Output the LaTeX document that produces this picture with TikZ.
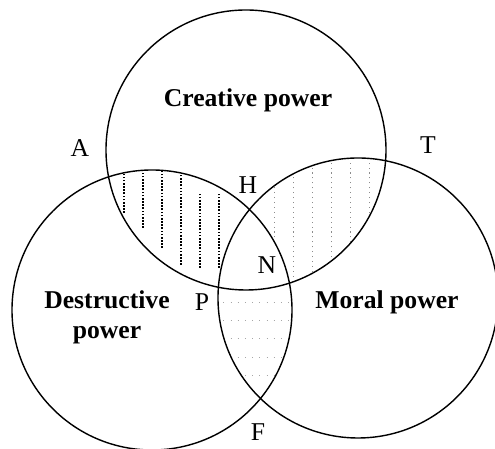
\documentclass[tikz,border=0pt]{standalone}
\usepackage{fontspec}
\setmainfont{Liberation Serif}
\usepackage{tikz}
\usetikzlibrary{positioning}

\begin{document}
\begin{tikzpicture}[
    x=0.02cm, y=0.02cm,
    ring/.style={draw=black, line width=0.8pt},
    hatchdark/.style={black, line width=0.6pt, dash pattern=on 0.9pt off 0.9pt},
    hatchlight/.style={black!45, line width=0.4pt, dash pattern=on 0.6pt off 2.2pt},
    hatchfaint/.style={black!35, line width=0.4pt, dash pattern=on 0.6pt off 3.5pt},
    title/.style={font=\fontsize{14.6}{17}\selectfont\bfseries, align=center},
    pt/.style={font=\fontsize{14.6}{17}\selectfont}
]
\useasboundingbox (0,0) rectangle (495,449);
\clip (0,0) rectangle (495,449);

% Circle centres
\coordinate (cTop) at (246,299);
\coordinate (cLeft) at (152,139);
\coordinate (cRight) at (358,151);
\def\R{140}

% Creative and destructive only: close dotted verticals
\begin{scope}
  \clip (cTop) circle[radius=\R];
  \clip (cLeft) circle[radius=\R];
  \clip (-10,-10) -- (-10,460) -- (510,460) -- (510,-10) -- cycle (cRight) circle[radius=\R];
  \foreach \x/\ya/\yb in {124/236/275, 143/221/280, 162/201/280, 181/184/280, 200/181/256, 219/181/256} {
    \draw[hatchdark] (\x,\ya) -- (\x,\yb);
  }
\end{scope}

% Creative and moral only: light verticals
\begin{scope}
  \clip (cTop) circle[radius=\R];
  \clip (cRight) circle[radius=\R];
  \clip (-10,-10) -- (-10,460) -- (510,460) -- (510,-10) -- cycle (cLeft) circle[radius=\R];
  \foreach \x in {274,293,312,331,350,369} {
    \draw[hatchlight] (\x,0) -- (\x,449);
  }
\end{scope}

% Destructive and moral only: faint horizontals
\begin{scope}
  \clip (cLeft) circle[radius=\R];
  \clip (cRight) circle[radius=\R];
  \clip (-10,-10) -- (-10,460) -- (510,460) -- (510,-10) -- cycle (cTop) circle[radius=\R];
  \foreach \y in {147,129,111,92,74} {
    \draw[hatchfaint] (0,\y) -- (495,\y);
  }
\end{scope}

% Circles
\draw[ring] (cTop) circle[radius=\R];
\draw[ring] (cLeft) circle[radius=\R];
\draw[ring] (cRight) circle[radius=\R];

% Circle names
\node[title] (creative) at (248,349) {Creative power};
\node[title] (destructive) at (107,132) {Destructive\\power};
\node[title] (moral) at (387,147) {Moral power};

% Point letters
\node[pt] (A) at (80,301) {A};
\node[pt] (T) at (428,304) {T};
\node[pt] (H) at (248,264) {H};
\node[pt] (N) at (267,184) {N};
\node[pt] (P) at (202,147) {P};
\node[pt] (F) at (258,17) {F};
\end{tikzpicture}
\end{document}
